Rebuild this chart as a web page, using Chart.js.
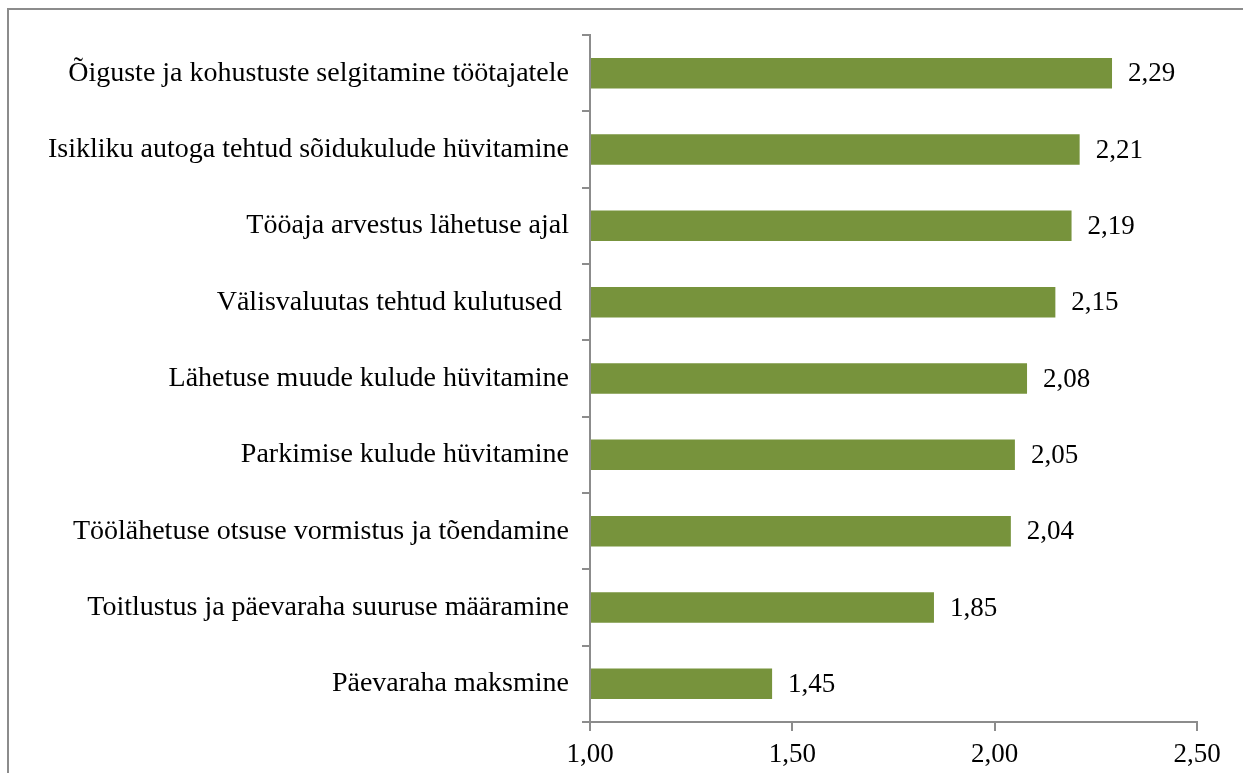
<!DOCTYPE html>
<html>
<head>
<meta charset="utf-8">
<script src="https://cdn.jsdelivr.net/npm/chart.js@4"></script>
<style>
  body { margin: 0; background: #fff; overflow: hidden; }
  #frame { position: absolute; left: 7px; top: 8px; width: 1300px; height: 800px; border: 2px solid #8c8c8c; box-sizing: border-box; }
  #graf { position: absolute; left: 0; top: 0; }
</style>
</head>
<body>
<div id="frame"></div>
<canvas id="graf" width="1243" height="773"></canvas>
<script>
// Kategooriad ja väärtused (ülevalt alla)
const kategooriad = [
  'Õiguste ja kohustuste selgitamine töötajatele',
  'Isikliku autoga tehtud sõidukulude hüvitamine',
  'Tööaja arvestus lähetuse ajal',
  'Välisvaluutas tehtud kulutused ',
  'Lähetuse muude kulude hüvitamine',
  'Parkimise kulude hüvitamine',
  'Töölähetuse otsuse vormistus ja tõendamine',
  'Toitlustus ja päevaraha suuruse määramine',
  'Päevaraha maksmine'
];
const hinnangud = [2.29, 2.21, 2.19, 2.15, 2.08, 2.05, 2.04, 1.85, 1.45];
const xMin = 1.0;
const xMax = 2.5;
const xSamm = 0.5;

const koma = v => Number(v).toFixed(2).replace('.', ',');
const perekond = '"Liberation Serif", "Times New Roman", serif';

// Väärtuste sildid tulpade lõppu
const vaartusSildid = {
  id: 'vaartusSildid',
  afterDatasetsDraw(chart) {
    const ctx = chart.ctx;
    const meta = chart.getDatasetMeta(0);
    ctx.save();
    ctx.font = '27px ' + perekond;
    ctx.fillStyle = '#000';
    ctx.textAlign = 'left';
    ctx.textBaseline = 'middle';
    meta.data.forEach((bar, i) => {
      ctx.fillText(koma(hinnangud[i]), bar.x + 16, bar.y + 1);
    });
    ctx.restore();
  }
};

const telgVarv = '#8c8c8c';

new Chart(document.getElementById('graf').getContext('2d'), {
  type: 'bar',
  data: {
    labels: kategooriad,
    datasets: [{
      data: hinnangud,
      backgroundColor: '#77933c',
      borderWidth: 0,
      categoryPercentage: 1,
      barPercentage: 0.4,
      base: xMin
    }]
  },
  options: {
    indexAxis: 'y',
    responsive: false,
    animation: false,
    layout: { padding: { top: 35, right: 46, left: 0, bottom: 0 } },
    plugins: { legend: { display: false }, tooltip: { enabled: false } },
    scales: {
      x: {
        min: xMin,
        max: xMax,
        ticks: { stepSize: xSamm, color: '#000', font: { family: perekond, size: 27 }, padding: 8, callback: v => koma(v) },
        grid: { drawOnChartArea: false, drawTicks: true, tickLength: 9, color: telgVarv, lineWidth: 2 },
        border: { color: telgVarv, width: 2 },
        afterFit: s => { s.height = 51; }
      },
      y: {
        ticks: { color: '#000', font: { family: perekond, size: 28 }, padding: 13 },
        grid: { drawOnChartArea: false, drawTicks: true, tickLength: 8, color: telgVarv, lineWidth: 2 },
        border: { color: telgVarv, width: 2 },
        afterFit: s => { s.width = 590; }
      }
    }
  },
  plugins: [vaartusSildid]
});
</script>
</body>
</html>
